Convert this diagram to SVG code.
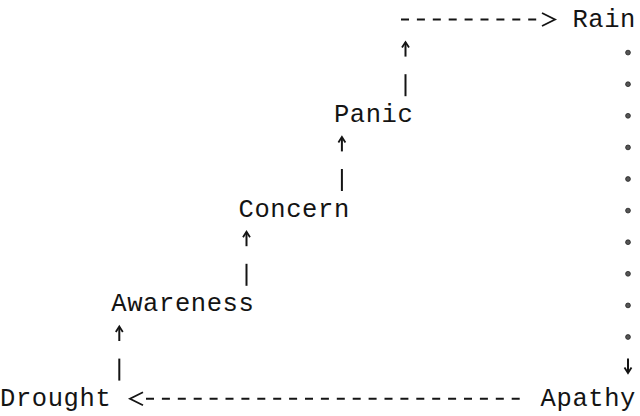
<svg xmlns="http://www.w3.org/2000/svg" width="640" height="416" viewBox="0 0 640 416">
<style>
  .lbl { font-family: "Liberation Mono", "DejaVu Sans Mono", monospace; font-size: 25.5px; letter-spacing: 0.6px; fill: #141414; }
  .dash { stroke: #141414; stroke-width: 1.9; stroke-dasharray: 8 7.9; fill: none; }
  .bar { stroke: #141414; stroke-width: 2; fill: none; }
  .head { stroke: #141414; stroke-width: 1.8; fill: none; stroke-linejoin: miter; }
  .chev { stroke: #141414; stroke-width: 1.8; fill: none; stroke-linejoin: miter; }
  .dot { fill: #555; stroke: #222; stroke-width: 0.8; }
</style>
<rect width="640" height="416" fill="#ffffff"/>
<g id="connectors">
  <g id="drought-awareness">
    <line class="bar" x1="119.3" y1="358.6" x2="119.3" y2="380.6"/>
    <line class="bar" x1="119.3" y1="341" x2="119.3" y2="327"/>
    <polyline class="head" points="115.8,332 119.3,326.5 122.8,332"/>
  </g>
  <g id="awareness-concern">
    <line class="bar" x1="246.5" y1="263.8" x2="246.5" y2="285.8"/>
    <line class="bar" x1="246.5" y1="246.2" x2="246.5" y2="232.2"/>
    <polyline class="head" points="243,237.2 246.5,231.7 250,237.2"/>
  </g>
  <g id="concern-panic">
    <line class="bar" x1="341.9" y1="169" x2="341.9" y2="191"/>
    <line class="bar" x1="341.9" y1="151.4" x2="341.9" y2="137.4"/>
    <polyline class="head" points="338.4,142.4 341.9,136.9 345.4,142.4"/>
  </g>
  <g id="panic-rain">
    <line class="bar" x1="405.5" y1="74.2" x2="405.5" y2="96.2"/>
    <line class="bar" x1="405.5" y1="56.6" x2="405.5" y2="42.6"/>
    <polyline class="head" points="402,47.6 405.5,42.1 409,47.6"/>
    <line class="dash" x1="401" y1="19.5" x2="540" y2="19.5"/>
    <polyline class="chev" points="542,13 555,19.5 542,26"/>
  </g>
  <g id="rain-apathy">
    <circle class="dot" cx="628" cy="52.6" r="2.4"/>
    <circle class="dot" cx="628" cy="84.2" r="2.4"/>
    <circle class="dot" cx="628" cy="115.8" r="2.4"/>
    <circle class="dot" cx="628" cy="147.4" r="2.4"/>
    <circle class="dot" cx="628" cy="179" r="2.4"/>
    <circle class="dot" cx="628" cy="210.6" r="2.4"/>
    <circle class="dot" cx="628" cy="242.2" r="2.4"/>
    <circle class="dot" cx="628" cy="273.8" r="2.4"/>
    <circle class="dot" cx="628" cy="305.4" r="2.4"/>
    <circle class="dot" cx="628" cy="337" r="2.4"/>
    <line class="bar" x1="628" y1="358.6" x2="628" y2="372.6"/>
    <polyline class="head" points="624.5,367.6 628,373.1 631.5,367.6"/>
  </g>
  <g id="apathy-drought">
    <line class="dash" x1="146" y1="398.7" x2="525" y2="398.7"/>
    <polyline class="chev" points="143,392.2 130,398.7 143,405.2"/>
  </g>
</g>
<g id="node-rain"><text class="lbl" x="572.4" y="27">Rain</text></g>
<g id="node-panic"><text class="lbl" x="333.9" y="121.8">Panic</text></g>
<g id="node-concern"><text class="lbl" x="238.5" y="216.6">Concern</text></g>
<g id="node-awareness"><text class="lbl" x="111.3" y="311.4">Awareness</text></g>
<g id="node-drought"><text class="lbl" x="0" y="406.2">Drought</text></g>
<g id="node-apathy"><text class="lbl" x="540.6" y="406.2">Apathy</text></g>
</svg>
